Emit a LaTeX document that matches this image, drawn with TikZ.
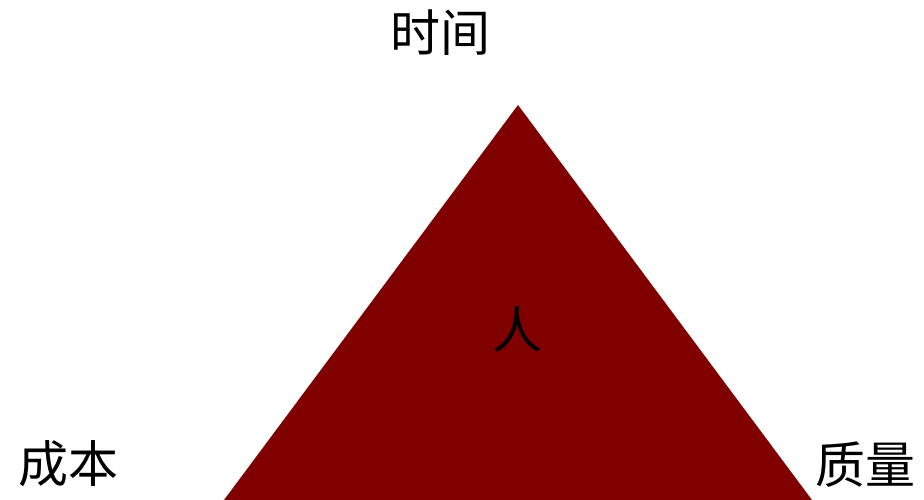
\documentclass[tikz,border=0pt]{standalone}
\usepackage{fontspec}
\newfontfamily\cjk{Noto Sans CJK SC}
\definecolor{maroon}{HTML}{800000}
\tikzset{
  label text/.style={font=\cjk\fontsize{50}{50}\selectfont, inner sep=0pt, text=black},
}
\begin{document}
\begin{tikzpicture}[x=1pt, y=1pt]
        \useasboundingbox (0,0) rectangle (924,500);
        % triangle
        \coordinate (top) at (518,395);
        \coordinate (left) at (224,0);
        \coordinate (right) at (812,0);
        \fill[maroon] (top) -- (left) -- (right) -- cycle;
        % labels
        \node[label text] (time) at (440,467) {时间};
        \node[label text] (cost) at (69,36) {成本};
        \node[label text] (quality) at (865,35) {质量};
        \node[label text] (person) at (517,171) {人};
    \end{tikzpicture}
\end{document}
